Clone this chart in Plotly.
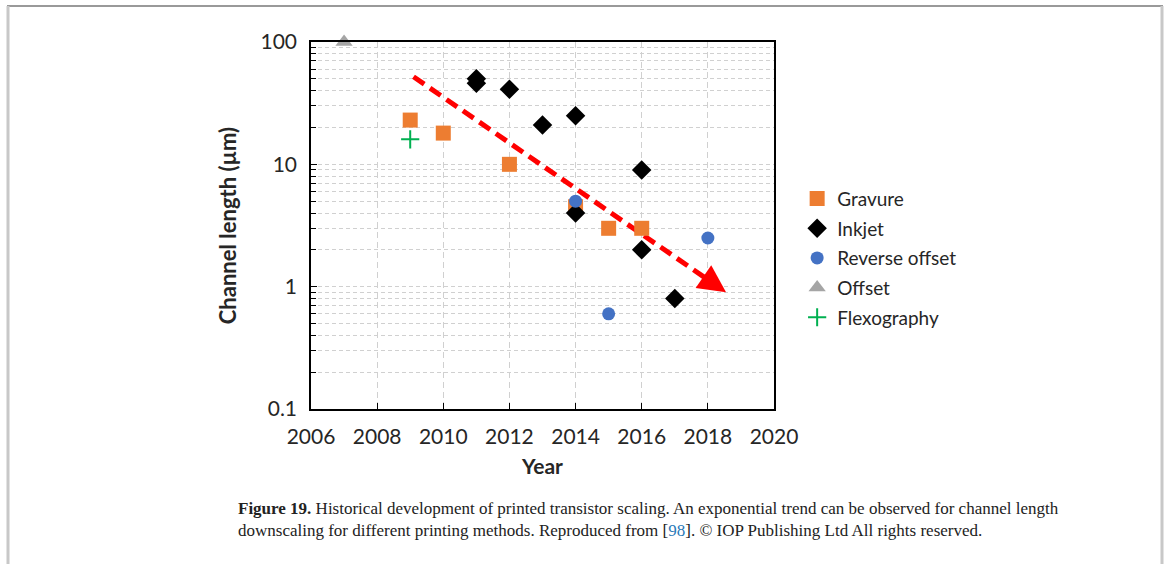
import math
import plotly.graph_objects as go

# ---- data ----
gravure_years = [2009, 2010, 2012, 2014, 2015, 2016]
gravure_len = [23, 18, 10, 4.5, 3, 3]

inkjet_years = [2011, 2011, 2012, 2013, 2014, 2014, 2016, 2016, 2017]
inkjet_len = [50, 46, 41, 21, 25, 4, 9, 2, 0.8]

revoff_years = [2014, 2015, 2018]
revoff_len = [5, 0.6, 2.5]

offset_years = [2007]
offset_len = [100]

flexo_years = [2009]
flexo_len = [16]

# trend arrow: dashed body start, body end, arrow tip
trend_years = [2009.1, 2017.9, 2018.55]
trend_len = [52, 1.19, 0.9]

x_ticks = [2006, 2008, 2010, 2012, 2014, 2016, 2018, 2020]
y_ticks = [0.1, 1, 10, 100]
y_tick_text = ["0.1", "1", "10", "100"]

tick_font = dict(family="Lato, 'Open Sans', sans-serif", size=21, color="#262626")
grid_col = "#d0d0d0"

fig = go.Figure()

fig.add_trace(go.Scatter(x=trend_years[:2], y=trend_len[:2], mode="lines",
                         line=dict(color="#FF0000", width=5, dash="13px,7px"),
                         showlegend=False, hoverinfo="skip", cliponaxis=False))
# annotations on a log axis take log10 positions
fig.add_annotation(x=trend_years[2], y=math.log10(trend_len[2]),
                   ax=trend_years[1], ay=math.log10(trend_len[1]),
                   xref="x", yref="y", axref="x", ayref="y", text="", showarrow=True,
                   arrowhead=2, arrowsize=1.1, arrowwidth=5, arrowcolor="#FF0000")

fig.add_trace(go.Scatter(x=gravure_years, y=gravure_len, mode="markers", name="Gravure",
                         legendgroup="a", cliponaxis=False,
                         marker=dict(symbol="square", size=15, color="#ED7D31")))
fig.add_trace(go.Scatter(x=inkjet_years, y=inkjet_len, mode="markers", name="Inkjet",
                         legendgroup="b", cliponaxis=False,
                         marker=dict(symbol="diamond", size=15, color="#000000")))
fig.add_trace(go.Scatter(x=revoff_years, y=revoff_len, mode="markers", name="Reverse offset",
                         legendgroup="c", cliponaxis=False,
                         marker=dict(symbol="circle", size=13, color="#4472C4")))
fig.add_trace(go.Scatter(x=offset_years, y=offset_len, mode="markers", name="Offset",
                         legendgroup="d", cliponaxis=False,
                         marker=dict(symbol="triangle-up", size=15, color="#A5A5A5")))
fig.add_trace(go.Scatter(x=flexo_years, y=flexo_len, mode="markers", name="Flexography",
                         legendgroup="e", cliponaxis=False,
                         marker=dict(symbol="cross-thin", size=13, color="#00B050",
                                     line=dict(color="#00B050", width=2))))

fig.update_xaxes(range=[2006, 2020], tickvals=x_ticks, ticks="inside", ticklen=6,
                 tickcolor="#000", showline=True, linecolor="#000", linewidth=1.5,
                 mirror=True, showgrid=True, gridcolor=grid_col, griddash="6px,4px",
                 gridwidth=1, zeroline=False, tickfont=tick_font, ticklabelstandoff=8,
                 title=dict(text="<b>Year</b>", font=dict(family="Lato, sans-serif", size=21,
                                                          color="#262626"), standoff=12))
fig.update_yaxes(type="log", range=[-1, 2], tickvals=y_ticks, ticktext=y_tick_text,
                 ticks="inside", ticklen=6, tickcolor="#000", showline=True,
                 linecolor="#000", linewidth=1.5, mirror=True, showgrid=True,
                 gridcolor=grid_col, griddash="4px,3px", zeroline=False,
                 tickfont=tick_font, ticklabelstandoff=8,
                 minor=dict(ticks="inside", ticklen=5, tickcolor="#000", showgrid=True,
                            gridcolor=grid_col, griddash="4px,3px", dtick="D1"),
                 title=dict(text="<b>Channel length (µm)</b>",
                            font=dict(family="Lato, sans-serif", size=22, color="#262626"),
                            standoff=18))

caption = ("<b>Figure 19.</b> Historical development of printed transistor scaling. "
           "An exponential trend can be observed for channel length<br>"
           "downscaling for different printing methods. Reproduced from "
           "[<span style='color:#2a7ab8'>98</span>]. © IOP Publishing Ltd All rights reserved.")
fig.add_annotation(text=caption, xref="paper", yref="paper", x=-75/463, y=-88/367,
                   xanchor="left", yanchor="top", align="left", showarrow=False,
                   font=dict(family="'Liberation Serif', 'DejaVu Serif', serif", size=17,
                             color="#222"))

# page border
fig.add_shape(type="line", xref="paper", yref="paper", x0=-304/463, x1=852/463,
              y0=1 + 36/367, y1=1 + 36/367, line=dict(color="#999", width=2))
fig.add_shape(type="line", xref="paper", yref="paper", x0=-303/463, x1=-303/463,
              y0=1 + 36/367, y1=-155/367, line=dict(color="#c8c8c8", width=3))
fig.add_shape(type="line", xref="paper", yref="paper", x0=851/463, x1=851/463,
              y0=1 + 36/367, y1=-155/367, line=dict(color="#c8c8c8", width=3))

fig.update_layout(width=1167, height=564, margin=dict(l=311, r=393, t=42, b=155),
                  paper_bgcolor="white", plot_bgcolor="white",
                  font=dict(family="Lato, sans-serif", color="#262626"),
                  legend=dict(x=1.05, y=0.625, xanchor="left", yanchor="top",
                              font=dict(family="Lato, sans-serif", size=19, color="#262626"),
                              tracegroupgap=2, itemwidth=30),
                  showlegend=True)

fig.write_html("out.html", config={"displayModeBar": False},
               post_script="document.body.style.margin='0';")
